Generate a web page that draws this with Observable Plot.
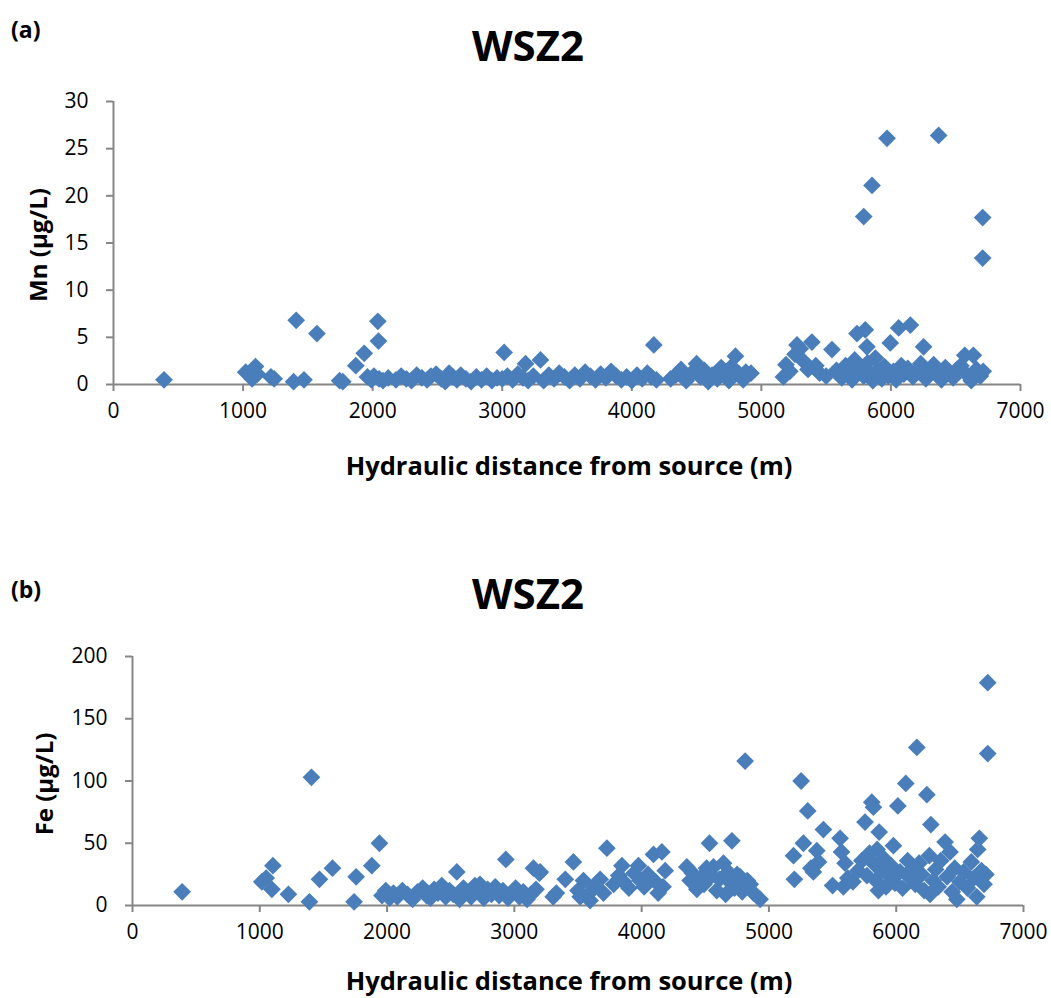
<!DOCTYPE html>
<html>
<head>
<meta charset="utf-8">
<script src="https://cdn.jsdelivr.net/npm/d3@7"></script>
<script src="https://cdn.jsdelivr.net/npm/@observablehq/plot@0.6"></script>
<style>
  html, body { margin: 0; padding: 0; background: #fff; }
  #fig { position: relative; width: 1051px; height: 998px; font-family: "Open Sans", sans-serif; color: #000; }
  #fig svg { position: absolute; left: 0; }
  .lbl { position: absolute; font-weight: bold; white-space: nowrap; line-height: 1; }
  .panel { font-size: 23px; }
  .title { font-size: 42px; transform: translateX(-50%); }
  .xtitle { font-size: 25.5px; transform: translateX(-50%); }
  .ytitle { font-size: 24px; transform: translate(-50%, -50%) rotate(-90deg); }
</style>
</head>
<body>
<div id="fig"></div>
<script>
// Shared x ticks (hydraulic distance, m)
const distTicks = [0, 1000, 2000, 3000, 4000, 5000, 6000, 7000];
const mnTicks = [0, 5, 10, 15, 20, 25, 30];
const feTicks = [0, 50, 100, 150, 200];

// (a) Mn samples: distance from source (m) and concentration (µg/L)
const mnDist = [
  390, 1020, 1070, 1096, 1110, 1215, 1240, 1390, 1410, 1470, 1570, 1745, 1770, 1870, 1935, 2040, 2045,
  1960, 1990, 2010, 2050, 2080, 2120, 2180, 2220, 2260, 2300, 2340, 2380, 2420, 2450, 2490, 2530, 2560,
  2590, 2620, 2650, 2680, 2720, 2760, 2800, 2840, 2880, 2920, 2960, 3000, 3015, 3040, 3080, 3120, 3160,
  3180, 3200, 3240, 3295, 3320, 3360, 3400, 3440, 3480, 3520, 3560, 3600, 3640, 3680, 3720, 3760, 3800,
  3840, 3880, 3920, 3960, 4000, 4040, 4080, 4120, 4150, 4170, 4190,
  4300, 4340, 4380, 4420, 4460, 4500, 4530, 4560, 4590, 4620, 4660, 4690, 4720, 4750, 4770, 4800, 4830,
  4860, 4880, 4920,
  5170, 5190, 5220, 5260, 5275, 5300, 5330, 5360, 5390, 5420, 5450, 5500, 5545, 5580, 5620, 5650, 5680,
  5700, 5720, 5738, 5760, 5790, 5790, 5802, 5815, 5820, 5840, 5854, 5860, 5880, 5900, 5930, 5950, 5970,
  5980, 5995, 6020, 6040, 6060, 6080, 6100, 6130, 6150, 6170, 6200, 6230, 6252, 6270, 6300, 6330, 6360,
  6368, 6390, 6420, 6450, 6480, 6510, 6540, 6570, 6590, 6620, 6636, 6660, 6690, 6708, 6708, 6712
];
const mnVal = [
  0.5, 1.3, 0.6, 1.9, 1.1, 0.8, 0.6, 0.3, 6.8, 0.5, 5.4, 0.4, 0.3, 2.0, 3.3, 6.7, 4.6,
  0.8, 0.5, 0.9, 0.6, 0.4, 0.7, 0.5, 0.9, 0.6, 0.4, 1.0, 0.7, 0.5, 0.9, 1.1, 0.6, 0.3,
  1.2, 0.8, 0.5, 1.0, 0.6, 0.3, 0.8, 0.5, 0.9, 0.4, 0.7, 0.6, 3.4, 0.9, 0.5, 1.1, 0.7,
  2.2, 0.4, 0.9, 2.6, 0.4, 1.0, 0.6, 1.2, 0.8, 0.4, 1.0, 0.6, 1.3, 0.9, 0.5, 1.1, 0.7,
  1.4, 0.9, 0.5, 0.8, 0.4, 1.0, 0.6, 1.2, 0.8, 4.2, 0.5,
  0.6, 1.0, 1.6, 0.4, 1.2, 2.2, 0.8, 1.5, 0.3, 1.0, 0.6, 1.8, 0.9, 0.4, 1.9, 3.0, 1.1,
  0.5, 1.3, 1.2,
  0.8, 2.1, 1.4, 3.2, 4.2, 3.8, 2.4, 1.6, 4.5, 2.0, 1.2, 0.9, 3.7, 1.5, 0.7, 2.0, 1.1,
  0.5, 2.6, 5.4, 1.8, 17.8, 0.9, 5.8, 4.0, 2.3, 1.2, 21.1, 0.4, 2.8, 1.5, 0.6, 1.9, 26.1,
  0.9, 4.4, 1.4, 0.5, 6.0, 2.0, 1.1, 1.7, 6.3, 0.8, 1.3, 2.2, 4.0, 0.6, 1.5, 2.1, 1.0,
  26.4, 0.5, 1.8, 1.2, 0.7, 1.6, 2.0, 3.1, 1.0, 0.4, 3.1, 1.6, 0.9, 17.7, 13.4, 1.4
];

// (b) Fe samples: distance from source (m) and concentration (µg/L)
const feDist = [
  390, 1016, 1050, 1095, 1103, 1225, 1390, 1406, 1469, 1571, 1741, 1757, 1880, 1940,
  1960, 1990, 2020, 2050, 2080, 2120, 2160, 2200, 2240, 2280, 2310, 2340, 2370, 2400, 2430, 2460, 2490,
  2520, 2548, 2570, 2600, 2630, 2660, 2690, 2720, 2730, 2760, 2790, 2820, 2850, 2880, 2910, 2933, 2950,
  2980, 3010, 3040, 3070, 3100, 3130, 3150, 3170, 3197,
  3203, 3305, 3330, 3400, 3464, 3500, 3517, 3543, 3580, 3595, 3620, 3674, 3700, 3727, 3780, 3820, 3845,
  3860, 3900, 3940, 3975, 3988, 4020, 4050, 4093, 4110, 4130, 4159, 4168, 4185,
  4355, 4381, 4400, 4434, 4460, 4490, 4510, 4533, 4550, 4564, 4590, 4610, 4643, 4660, 4680, 4700, 4709,
  4730, 4750, 4774, 4790, 4813, 4830, 4853, 4880, 4931,
  5193, 5200, 5253, 5271, 5305, 5330, 5349, 5376, 5390, 5428, 5500, 5559, 5570, 5598, 5585, 5620, 5660,
  5700, 5730, 5755, 5770, 5790, 5808, 5821, 5830, 5840, 5850, 5860, 5866, 5880, 5900, 5920, 5940, 5960,
  5978, 5990, 6013, 6030, 6050, 6075, 6090, 6110, 6130, 6150, 6162, 6180, 6200, 6220, 6241, 6260, 6272,
  6266, 6290, 6310, 6330, 6350, 6384, 6400, 6423, 6440, 6460, 6476, 6500, 6530, 6560, 6590, 6610, 6633,
  6640, 6653, 6670, 6690, 6705, 6719, 6719
];
const feVal = [
  11, 19, 22, 13, 32, 9, 3, 103, 21, 30, 3, 23, 32, 50,
  8, 12, 6, 10, 7, 12, 9, 5, 11, 14, 8, 6, 13, 10, 16, 7, 12,
  9, 27, 5, 14, 10, 7, 16, 11, 17, 6, 13, 9, 15, 8, 12, 37, 6,
  10, 14, 7, 11, 5, 9, 30, 13, 26,
  27, 7, 10, 21, 35, 12, 7, 20, 9, 4, 15, 21, 10, 46, 17, 24, 32,
  19, 14, 26, 32, 20, 15, 25, 41, 19, 10, 43, 15, 28,
  31, 20, 26, 13, 22, 17, 30, 50, 24, 31, 12, 21, 34, 9, 27, 18, 52,
  14, 25, 23, 11, 116, 20, 17, 10, 5,
  40, 21, 100, 50, 76, 30, 27, 44, 35, 61, 16, 54, 43, 34, 15, 22, 19,
  28, 36, 67, 24, 42, 83, 79, 33, 20, 45, 12, 59, 28, 38, 15, 24, 32,
  48, 18, 80, 27, 14, 98, 36, 22, 30, 17, 127, 34, 25, 12, 89, 40, 65,
  9, 20, 29, 15, 36, 51, 23, 43, 11, 30, 5, 19, 27, 14, 35, 22, 7,
  45, 54, 28, 17, 25, 179, 122
];

const markerColor = "#4a7ebb";
const axisGray = "#868686";
const W = 1051, H = 499;

function scatter({dist, val, yTicks, yMax, left, right, top, bottom}) {
  const rows = dist.map((d, i) => ({dist: d, value: val[i]}));
  return Plot.plot({
    width: W,
    height: H,
    marginLeft: left,
    marginRight: right,
    marginTop: top,
    marginBottom: bottom,
    style: {fontFamily: "'Open Sans', sans-serif", fontSize: "21px", color: "#000", background: "#fff", overflow: "visible"},
    x: {domain: [0, 7000], label: null},
    y: {domain: [0, yMax], label: null},
    marks: [
      Plot.axisX(distTicks, {tickSize: 7, tickPadding: 12, fontSize: 21, stroke: axisGray, strokeWidth: 2, fill: "#000", label: null, tickFormat: d => String(d)}),
      Plot.axisY(yTicks, {tickSize: 7, tickPadding: 18, fontSize: 21, stroke: axisGray, strokeWidth: 2, fill: "#000", label: null, tickFormat: d => String(d)}),
      Plot.ruleX([0], {stroke: axisGray, strokeWidth: 2}),
      Plot.ruleY([0], {stroke: axisGray, strokeWidth: 2}),
      Plot.dot(rows, {x: "dist", y: "value", symbol: "diamond2", r: 8, fill: markerColor, stroke: "none"})
    ]
  });
}

const fig = document.getElementById("fig");

const mnChart = scatter({dist: mnDist, val: mnVal, yTicks: mnTicks, yMax: 30, left: 113, right: 31, top: 101, bottom: 115});
mnChart.style.top = "0px";
fig.appendChild(mnChart);

const feChart = scatter({dist: feDist, val: feVal, yTicks: feTicks, yMax: 200, left: 132, right: 28, top: 157, bottom: 93});
feChart.style.top = "499px";
fig.appendChild(feChart);

// Panel letters, titles and axis titles
const labels = [
  {cls: "panel", text: "(a)", x: 11, y: 18},
  {cls: "title", text: "WSZ2", x: 528, y: 24},
  {cls: "xtitle", text: "Hydraulic distance from source (m)", x: 569, y: 453},
  {cls: "ytitle", text: "Mn (µg/L)", x: 38, y: 245},
  {cls: "panel", text: "(b)", x: 11, y: 578},
  {cls: "title", text: "WSZ2", x: 528, y: 572},
  {cls: "xtitle", text: "Hydraulic distance from source (m)", x: 569, y: 968},
  {cls: "ytitle", text: "Fe (µg/L)", x: 44, y: 784}
];
for (const l of labels) {
  const el = document.createElement("div");
  el.className = "lbl " + l.cls;
  el.textContent = l.text;
  el.style.left = l.x + "px";
  el.style.top = l.y + "px";
  fig.appendChild(el);
}
</script>
</body>
</html>
